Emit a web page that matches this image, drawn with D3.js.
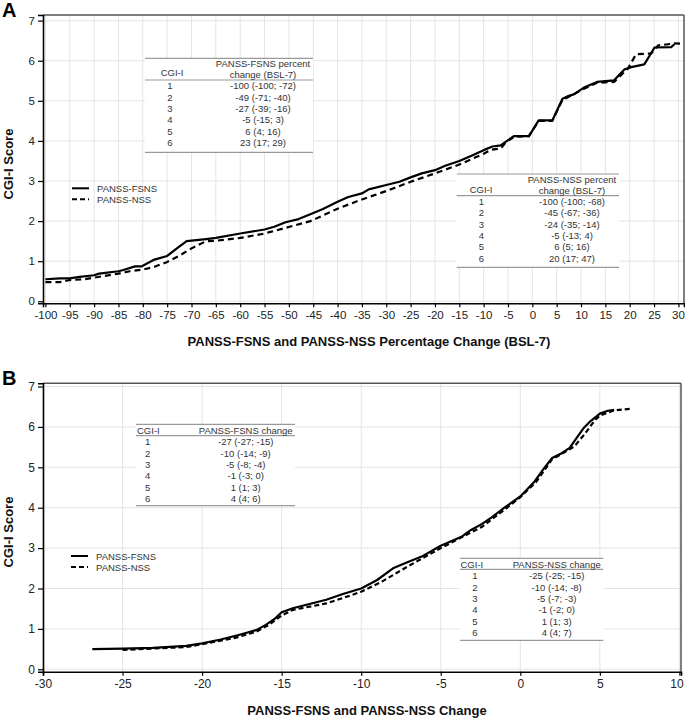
<!DOCTYPE html>
<html>
<head>
<meta charset="utf-8">
<script src="https://cdn.jsdelivr.net/npm/d3@7"></script>
<style>
  html, body { margin: 0; padding: 0; background: #fff; }
  svg { display: block; font-family: "Liberation Sans", Arial, sans-serif; }
</style>
</head>
<body>
<svg id="chart" width="685" height="718"></svg>
<script>
// ---------------- DATA ----------------
// Panel A: CGI-I score vs percentage change (BSL-7)
const aFsns = [[-100,0.55],[-97,0.57],[-95,0.57],[-93,0.61],[-90,0.65],[-89,0.69],[-85,0.75],[-84,0.78],[-81.6,0.87],[-80.3,0.87],[-77.6,1.04],[-75,1.13],[-73,1.32],[-71,1.5],[-67,1.55],[-65,1.58],[-60,1.69],[-55,1.79],[-53,1.86],[-50.7,1.97],[-48,2.05],[-45.6,2.17],[-43,2.3],[-40,2.48],[-37.8,2.6],[-35,2.69],[-33.6,2.79],[-30,2.9],[-27.3,2.98],[-25,3.09],[-22.7,3.19],[-20,3.27],[-17.9,3.38],[-15,3.5],[-12.5,3.63],[-10,3.77],[-8.2,3.86],[-6.5,3.89],[-3.8,4.12],[-0.7,4.12],[1.3,4.51],[4.1,4.51],[6.2,5.05],[7.2,5.11],[8.5,5.16],[10.6,5.33],[13.3,5.47],[16.8,5.51],[18.9,5.78],[20.3,5.84],[23,5.91],[25.1,6.33],[28.5,6.34],[29.2,6.41]];
const aNss = [[-100,0.48],[-97,0.48],[-95,0.53],[-92,0.55],[-90,0.59],[-85,0.69],[-82.7,0.75],[-80,0.79],[-77.6,0.86],[-75,0.98],[-72.3,1.15],[-70,1.32],[-67,1.5],[-65,1.51],[-60,1.58],[-55,1.69],[-53.8,1.73],[-50.7,1.83],[-45.6,2.0],[-43,2.14],[-40,2.31],[-35,2.54],[-30,2.75],[-25,2.98],[-20,3.19],[-15,3.41],[-10,3.68],[-8.5,3.78],[-6.5,3.81],[-5.4,3.97],[-3.8,4.1],[-0.7,4.12],[1.3,4.5],[4.1,4.5],[6.2,5.03],[7.5,5.1],[10.6,5.3],[13.3,5.45],[16.8,5.47],[19.6,5.8],[21.3,6.16],[24.4,6.18],[25.8,6.38],[29.2,6.43],[31,6.42]];
// Panel B: CGI-I score vs absolute change
const bFsns = [[-26.9,0.5],[-25,0.51],[-23.1,0.53],[-21,0.58],[-20,0.64],[-18.9,0.73],[-17.7,0.85],[-16.6,0.97],[-16,1.1],[-15.4,1.26],[-15,1.41],[-14.3,1.51],[-13.5,1.59],[-12.2,1.72],[-11.1,1.87],[-10,2.0],[-9,2.21],[-8,2.5],[-7.1,2.65],[-6.2,2.79],[-5,3.06],[-3.7,3.28],[-3.1,3.45],[-2.4,3.6],[-1.8,3.76],[-1,4.0],[0,4.28],[0.9,4.65],[1.5,4.98],[2,5.23],[2.6,5.35],[3.1,5.48],[3.4,5.65],[4,5.98],[4.4,6.14],[5,6.33],[5.5,6.4],[5.9,6.42]];
const bNss = [[-25,0.48],[-21,0.55],[-20,0.62],[-18,0.77],[-16.6,0.93],[-15.8,1.1],[-15,1.33],[-14.3,1.47],[-12.2,1.63],[-11.1,1.77],[-10,1.92],[-8.7,2.17],[-7.1,2.54],[-5,3.0],[-2.4,3.53],[-1,3.95],[0,4.26],[1,4.64],[2,5.2],[2.6,5.33],[3.4,5.52],[4,5.8],[4.7,6.17],[5,6.28],[5.9,6.41],[7,6.45]];

const yTicks = [0,1,2,3,4,5,6,7];
const aXTicks = d3.range(-100, 31, 5);
const bXTicks = [-30,-25,-20,-15,-10,-5,0,5,10];
const seriesNames = ["PANSS-FSNS", "PANSS-NSS"];
const cgiLevels = ["1","2","3","4","5","6"];
const aFsnsTable = ["-100 (-100; -72)","-49 (-71; -40)","-27 (-39; -16)","-5 (-15; 3)","6 (4; 16)","23 (17; 29)"];
const aNssTable  = ["-100 (-100; -68)","-45 (-67; -36)","-24 (-35; -14)","-5 (-13; 4)","6 (5; 16)","20 (17; 47)"];
const bFsnsTable = ["-27 (-27; -15)","-10 (-14; -9)","-5 (-8; -4)","-1 (-3; 0)","1 (1; 3)","4 (4; 6)"];
const bNssTable  = ["-25 (-25; -15)","-10 (-14; -8)","-5 (-7; -3)","-1 (-2; 0)","1 (1; 3)","4 (4; 7)"];

// ---------------- DRAW ----------------
const svg = d3.select("#chart");

function drawPanel(o) {
  const g = svg.append("g");
  const x = d3.scaleLinear().domain(o.xDomain).range([o.left, o.right]);
  const y = d3.scaleLinear().domain(o.yDomain).range([o.bottom, o.top]);

  // gridlines
  g.append("g").selectAll("line").data(o.xTicks).join("line")
    .attr("x1", d => x(d)).attr("x2", d => x(d))
    .attr("y1", o.top).attr("y2", o.bottom)
    .attr("stroke", "#e4e4e4").attr("stroke-width", 1);
  g.append("g").selectAll("line").data(yTicks).join("line")
    .attr("x1", o.left).attr("x2", o.right)
    .attr("y1", d => y(d)).attr("y2", d => y(d))
    .attr("stroke", "#e4e4e4").attr("stroke-width", 1);

  // frame (top/right)
  g.append("line").attr("x1", o.left).attr("x2", o.right).attr("y1", o.top).attr("y2", o.top)
    .attr("stroke", "#555").attr("stroke-width", 1.5);
  g.append("line").attr("x1", o.right).attr("x2", o.right).attr("y1", o.top).attr("y2", o.bottom)
    .attr("stroke", "#555").attr("stroke-width", 1.5);

  // tables (white boxes)
  o.tables.forEach(t => drawTable(g, t));

  // lines
  const line = d3.line().x(d => x(d[0])).y(d => y(d[1]));
  g.append("path").datum(o.fsns).attr("d", line)
    .attr("fill", "none").attr("stroke", "#000").attr("stroke-width", 2.2).attr("stroke-linejoin", "round");
  g.append("path").datum(o.nss).attr("d", line)
    .attr("fill", "none").attr("stroke", "#000").attr("stroke-width", 2.2)
    .attr("stroke-dasharray", o.dash);

  // axes
  const xAxis = d3.axisBottom(x).tickValues(o.xTicks).tickFormat(d => String(d)).tickSize(4).tickPadding(4);
  const gx = g.append("g").attr("transform", `translate(0,${o.bottom})`).call(xAxis);
  const yAxis = d3.axisLeft(y).tickValues(yTicks).tickFormat(d => String(d)).tickSize(5).tickPadding(3);
  const gy = g.append("g").attr("transform", `translate(${o.left},0)`).call(yAxis);
  [gx, gy].forEach(a => {
    a.select(".domain").attr("stroke", "#000").attr("stroke-width", 1.6);
    a.selectAll(".tick line").attr("stroke", "#000").attr("stroke-width", 1.2);
    a.selectAll(".tick text").attr("fill", "#222").style("font-size", o.tickFont + "px")
      .style("font-family", '"Liberation Sans", Arial, sans-serif');
  });
  // keep the last x label inside the picture
  gx.selectAll(".tick text").filter(d => d === o.xTicks[o.xTicks.length - 1]).attr("dx", o.lastDx);

  // legend
  const lg = g.append("g");
  [0, 1].forEach(i => {
    lg.append("line").attr("x1", o.legX).attr("x2", o.legX + 17)
      .attr("y1", o.legY + i * 11).attr("y2", o.legY + i * 11)
      .attr("stroke", "#000").attr("stroke-width", 2)
      .attr("stroke-dasharray", i === 1 ? "5,3" : null);
    lg.append("text").attr("x", o.legX + 25).attr("y", o.legY + i * 11 + 3.5)
      .style("font-size", "9.5px").attr("fill", "#333").text(seriesNames[i]);
  });

  // panel letter
  svg.append("text").attr("x", 2).attr("y", o.letterY).text(o.letter)
    .style("font-size", "20px").style("font-weight", "bold").style("font-family", '"Liberation Sans", Arial, sans-serif');

  // axis titles
  svg.append("text").attr("x", o.xTitleX).attr("y", o.xTitleY).attr("text-anchor", "middle")
    .style("font-size", "13px").style("font-weight", "bold").attr("fill", "#111").text(o.xTitle);
  svg.append("text").attr("transform", `translate(13,${o.yTitleY}) rotate(-90)`).attr("text-anchor", "middle")
    .style("font-size", "13px").style("font-weight", "bold").attr("fill", "#111").text("CGI-I Score");
}

function drawTable(g, t) {
  const tg = g.append("g");
  tg.append("rect").attr("x", t.x0).attr("y", t.top).attr("width", t.x1 - t.x0).attr("height", t.bottom - t.top)
    .attr("fill", "#fff");
  [t.top, t.headLine, t.bottom].forEach(yy => {
    tg.append("line").attr("x1", t.x0).attr("x2", t.x1).attr("y1", yy).attr("y2", yy)
      .attr("stroke", "#9a9a9a").attr("stroke-width", 1.2);
  });
  const fs = "9.5px";
  tg.append("text").attr("x", t.cgiHeadX).attr("y", t.cgiHeadY + 3.4)
    .attr("text-anchor", t.cgiHeadAnchor).style("font-size", fs).attr("fill", "#333").text("CGI-I");
  t.head.forEach((h, i) => {
    tg.append("text").attr("x", t.valX).attr("y", t.headY[i] + 3.4).attr("text-anchor", "middle")
      .style("font-size", fs).attr("fill", "#333").text(h);
  });
  cgiLevels.forEach((c, i) => {
    const yy = t.row0 + i * t.rowStep + 3.4;
    tg.append("text").attr("x", t.numX).attr("y", yy).attr("text-anchor", "middle")
      .style("font-size", fs).attr("fill", "#333").text(c);
    tg.append("text").attr("x", t.valX).attr("y", yy).attr("text-anchor", "middle")
      .style("font-size", fs).attr("fill", "#333").text(t.values[i]);
  });
}

drawPanel({
  letter: "A", letterY: 17,
  xDomain: [-100.5, 31.15], yDomain: [-0.05, 7.14],
  left: 43, right: 684, top: 15, bottom: 303.3,
  xTicks: aXTicks, tickFont: 11.5, lastDx: -0.5,
  fsns: aFsns, nss: aNss, dash: "6,4",
  legX: 72, legY: 188.3,
  xTitle: "PANSS-FSNS and PANSS-NSS Percentage Change (BSL-7)", xTitleX: 369, xTitleY: 346,
  yTitleY: 164,
  tables: [
    { x0: 145, x1: 313, top: 58.3, headLine: 80, bottom: 152.3,
      cgiHeadX: 172, cgiHeadY: 73, cgiHeadAnchor: "middle",
      head: ["PANSS-FSNS percent", "change (BSL-7)"], headY: [64, 75],
      numX: 170, valX: 263, row0: 86, rowStep: 11.33, values: aFsnsTable },
    { x0: 456.7, x1: 619, top: 174, headLine: 195.7, bottom: 267.3,
      cgiHeadX: 481, cgiHeadY: 190, cgiHeadAnchor: "middle",
      head: ["PANSS-NSS percent", "change (BSL-7)"], headY: [180, 190.7],
      numX: 481.5, valX: 572, row0: 201.7, rowStep: 11.33, values: aNssTable }
  ]
});

drawPanel({
  letter: "B", letterY: 385,
  xDomain: [-30, 10.1], yDomain: [-0.06, 7.08],
  left: 43, right: 681, top: 383.3, bottom: 671.7,
  xTicks: bXTicks, tickFont: 12, lastDx: -3,
  fsns: bFsns, nss: bNss, dash: "5,3",
  legX: 71, legY: 556,
  xTitle: "PANSS-FSNS and PANSS-NSS Change", xTitleX: 367, xTitleY: 715,
  yTitleY: 532,
  tables: [
    { x0: 136, x1: 295, top: 424.3, headLine: 435.7, bottom: 505.7,
      cgiHeadX: 137, cgiHeadY: 430.7, cgiHeadAnchor: "start",
      head: ["PANSS-FSNS change"], headY: [430.7],
      numX: 147.7, valX: 245.7, row0: 441.7, rowStep: 11.4, values: bFsnsTable },
    { x0: 460, x1: 603.3, top: 558.3, headLine: 569.3, bottom: 640.3,
      cgiHeadX: 460.5, cgiHeadY: 564.3, cgiHeadAnchor: "start",
      head: ["PANSS-NSS change"], headY: [564.3],
      numX: 475, valX: 556.7, row0: 576, rowStep: 11.34, values: bNssTable }
  ]
});
</script>
</body>
</html>
